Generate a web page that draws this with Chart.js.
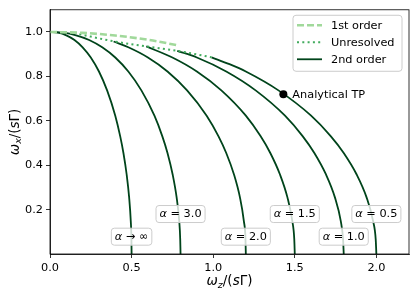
<!DOCTYPE html>
<html>
<head>
<meta charset="utf-8">
<script src="https://cdn.jsdelivr.net/npm/chart.js@4.4.0/dist/chart.umd.min.js"></script>
<style>
html, body { margin: 0; padding: 0; background: #fff; }
#wrap { width: 416px; height: 297px; }
</style>
</head>
<body>
<div id="wrap"><canvas id="chart" width="416" height="297"></canvas></div>
<script>
// Trục
const xTicks = [0.0, 0.5, 1.0, 1.5, 2.0];
const yTicks = [0.2, 0.4, 0.6, 0.8, 1.0];

// 1st order (nét đứt)
const firstOrderX = [0, 0.2, 0.4, 0.6, 0.79];
const firstOrderY = [1, 0.996, 0.984, 0.965, 0.939];

// Unresolved (chấm)
const unresolvedX = [0.18, 0.39, 0.59, 0.78, 0.99];
const unresolvedY = [0.99, 0.958, 0.935, 0.915, 0.886];

// 2nd order, mỗi alpha một đường
const curveInfX = [0, 0.05, 0.10, 0.15, 0.20, 0.25, 0.30, 0.35, 0.40, 0.43, 0.45, 0.47, 0.485, 0.495, 0.499, 0.5];
const curveInfY = [1, 0.997, 0.985, 0.964, 0.931, 0.885, 0.822, 0.737, 0.623, 0.531, 0.455, 0.357, 0.255, 0.148, 0.066, 0];

const curve30X = [0, 0.08, 0.16, 0.24, 0.32, 0.40, 0.48, 0.56, 0.64, 0.688, 0.72, 0.752, 0.776, 0.792, 0.798, 0.8];
const curve30Y = [1, 0.997, 0.985, 0.964, 0.931, 0.885, 0.822, 0.737, 0.623, 0.531, 0.455, 0.357, 0.255, 0.148, 0.066, 0];

const curve20X = [0.39, 0.48, 0.60, 0.72, 0.84, 0.96, 1.032, 1.08, 1.128, 1.164, 1.188, 1.198, 1.2];
const curve20Y = [0.957, 0.931, 0.885, 0.822, 0.737, 0.623, 0.531, 0.455, 0.357, 0.255, 0.148, 0.066, 0];

const curve15X = [0.59, 0.75, 0.90, 1.05, 1.20, 1.29, 1.35, 1.41, 1.455, 1.485, 1.497, 1.5];
const curve15Y = [0.935, 0.885, 0.822, 0.737, 0.623, 0.531, 0.455, 0.357, 0.255, 0.148, 0.066, 0];

const curve10X = [0.78, 0.90, 1.08, 1.26, 1.44, 1.548, 1.62, 1.692, 1.746, 1.782, 1.796, 1.8];
const curve10Y = [0.915, 0.885, 0.822, 0.737, 0.623, 0.531, 0.455, 0.357, 0.255, 0.148, 0.066, 0];

const curve05X = [0.99, 1.10, 1.20, 1.40, 1.60, 1.72, 1.80, 1.88, 1.94, 1.98, 1.996, 2.0];
const curve05Y = [0.886, 0.855, 0.822, 0.737, 0.623, 0.531, 0.455, 0.357, 0.255, 0.148, 0.066, 0];

// Điểm TP giải tích
const tpX = [1.43];
const tpY = [0.72];

// Nhãn alpha
const alphaText = ['→ ∞', '= 3.0', '= 2.0', '= 1.5', '= 1.0', '= 0.5'];
const alphaEnd = [0.5, 0.8, 1.2, 1.5, 1.8, 2.0];
const alphaLabelY = [0.078, 0.18, 0.078, 0.18, 0.078, 0.18];

const legendNames = ['1st order', 'Unresolved', '2nd order'];

const FONT = '"DejaVu Sans", sans-serif';
const C_LIGHT = '#a1d99b';
const C_MID = '#41ab5d';
const C_DARK = '#00441b';

function pts(xs, ys) {
    return xs.map((v, i) => ({ x: v, y: ys[i] }));
}

function secondOrder(xs, ys) {
    return {
        data: pts(xs, ys),
        borderColor: C_DARK,
        borderWidth: 1.8,
        pointRadius: 0,
        fill: false,
        cubicInterpolationMode: 'monotone'
    };
}

// Vẽ chữ kiểu mathtext
function drawRuns(ctx, runs, x, y, size) {
    let total = 0;
    const parts = runs.map(([t, s]) => {
        const fs = s === 'sub' ? size * 0.7 : size;
        const font = (s === 'n' ? '' : 'italic ') + fs + 'px ' + FONT;
        ctx.font = font;
        const w = ctx.measureText(t).width;
        total += w;
        return { t, font, w, dy: s === 'sub' ? size * 0.22 : 0 };
    });
    let cx = x - total / 2;
    ctx.textAlign = 'left';
    for (const p of parts) {
        ctx.font = p.font;
        ctx.fillText(p.t, cx, y + p.dy);
        cx += p.w;
    }
}

function roundBox(ctx, x, y, w, h, r) {
    ctx.beginPath();
    ctx.moveTo(x + r, y);
    ctx.lineTo(x + w - r, y);
    ctx.quadraticCurveTo(x + w, y, x + w, y + r);
    ctx.lineTo(x + w, y + h - r);
    ctx.quadraticCurveTo(x + w, y + h, x + w - r, y + h);
    ctx.lineTo(x + r, y + h);
    ctx.quadraticCurveTo(x, y + h, x, y + h - r);
    ctx.lineTo(x, y + r);
    ctx.quadraticCurveTo(x, y, x + r, y);
    ctx.closePath();
}

const annotate = {
    id: 'annotate',
    afterDatasetsDraw(chart) {
        const { ctx, chartArea: a, scales: { x, y } } = chart;
        ctx.save();

        // khung
        ctx.strokeStyle = '#000';
        ctx.lineWidth = 0.8;
        ctx.strokeRect(a.left, a.top, a.right - a.left, a.bottom - a.top);

        // nhãn alpha
        ctx.textBaseline = 'middle';
        alphaText.forEach((t, i) => {
            ctx.font = 'italic 11.3px ' + FONT;
            const wa = ctx.measureText('α').width;
            ctx.font = '11.3px ' + FONT;
            const wr = ctx.measureText(' ' + t).width;
            const w = wa + wr + 7, h = 17;
            const cx = x.getPixelForValue(alphaEnd[i]);
            const cy = y.getPixelForValue(alphaLabelY[i]);
            roundBox(ctx, cx - w / 2, cy - h / 2, w, h, 3);
            ctx.fillStyle = 'rgba(255,255,255,0.8)';
            ctx.fill();
            ctx.strokeStyle = '#cccccc';
            ctx.lineWidth = 1;
            ctx.stroke();
            ctx.fillStyle = '#000';
            ctx.textAlign = 'left';
            ctx.font = 'italic 11.3px ' + FONT;
            ctx.fillText('α', cx - w / 2 + 3.5, cy + 0.5);
            ctx.font = '11.3px ' + FONT;
            ctx.fillText(' ' + t, cx - w / 2 + 3.5 + wa, cy + 0.5);
        });

        // Analytical TP
        ctx.font = '11.3px ' + FONT;
        ctx.fillStyle = '#000';
        ctx.textAlign = 'left';
        ctx.fillText('Analytical TP', x.getPixelForValue(tpX[0]) + 9, y.getPixelForValue(tpY[0]) + 0.5);

        // chú giải
        const bw = 109, bh = 56;
        const bx = a.right - 7 - bw, by = a.top + 5.5;
        roundBox(ctx, bx, by, bw, bh, 3);
        ctx.fillStyle = 'rgba(255,255,255,0.8)';
        ctx.fill();
        ctx.strokeStyle = '#cccccc';
        ctx.lineWidth = 1;
        ctx.stroke();
        const rows = [
            { c: C_LIGHT, w: 2.6, d: [7, 3] },
            { c: C_MID, w: 2, d: [2, 3.3] },
            { c: C_DARK, w: 1.8, d: [] }
        ];
        rows.forEach((r, i) => {
            const ry = by + 10 + i * 17;
            ctx.beginPath();
            ctx.setLineDash(r.d);
            ctx.strokeStyle = r.c;
            ctx.lineWidth = r.w;
            ctx.moveTo(bx + 4, ry);
            ctx.lineTo(bx + 29, ry);
            ctx.stroke();
            ctx.setLineDash([]);
            ctx.fillStyle = '#000';
            ctx.font = '11.3px ' + FONT;
            ctx.fillText(legendNames[i], bx + 38, ry + 0.5);
        });

        // tên trục
        ctx.textBaseline = 'alphabetic';
        ctx.fillStyle = '#000';
        drawRuns(ctx, [['ω', 'i'], ['z', 'sub'], ['/(', 'n'], ['s', 'i'], ['Γ', 'n'], [')', 'n']],
            (a.left + a.right) / 2, 285.3, 13.5);
        ctx.translate(18.5, (a.top + a.bottom) / 2);
        ctx.rotate(-Math.PI / 2);
        drawRuns(ctx, [['ω', 'i'], ['x', 'sub'], ['/(', 'n'], ['s', 'i'], ['Γ', 'n'], [')', 'n']],
            0, 0, 13.5);

        ctx.restore();
    }
};

function initChart() {
    const el = document.getElementById('chart');
    new Chart(el.getContext('2d'), {
        type: 'line',
        data: {
            datasets: [
                {
                    data: pts(tpX, tpY),
                    showLine: false,
                    pointRadius: 4,
                    pointBackgroundColor: '#000',
                    pointBorderColor: '#000',
                    pointBorderWidth: 0
                },
                {
                    data: pts(firstOrderX, firstOrderY),
                    borderColor: C_LIGHT,
                    borderWidth: 2.6,
                    borderDash: [7, 3],
                    pointRadius: 0,
                    fill: false,
                    cubicInterpolationMode: 'monotone'
                },
                {
                    data: pts(unresolvedX, unresolvedY),
                    borderColor: C_MID,
                    borderWidth: 2,
                    borderDash: [2, 3.3],
                    pointRadius: 0,
                    fill: false,
                    cubicInterpolationMode: 'monotone'
                },
                secondOrder(curveInfX, curveInfY),
                secondOrder(curve30X, curve30Y),
                secondOrder(curve20X, curve20Y),
                secondOrder(curve15X, curve15Y),
                secondOrder(curve10X, curve10Y),
                secondOrder(curve05X, curve05Y)
            ]
        },
        options: {
            responsive: false,
            animation: false,
            devicePixelRatio: 1,
            layout: { padding: { top: 8, right: 7, left: 0, bottom: 0 } },
            plugins: {
                legend: { display: false },
                tooltip: { enabled: false }
            },
            scales: {
                x: {
                    type: 'linear',
                    min: 0,
                    max: 2.2,
                    afterBuildTicks: axis => { axis.ticks = xTicks.map(v => ({ value: v })); },
                    afterFit: axis => { axis.height = 43; },
                    ticks: {
                        color: '#000',
                        font: { family: 'DejaVu Sans', size: 11.3 },
                        padding: 3,
                        maxRotation: 0,
                        callback: v => v.toFixed(1)
                    },
                    grid: { display: true, drawOnChartArea: false, drawTicks: true, tickLength: 4, color: '#000', lineWidth: 0.8 },
                    border: { display: true, color: '#000', width: 0.8 }
                },
                y: {
                    type: 'linear',
                    min: 0,
                    max: 1.1,
                    afterBuildTicks: axis => { axis.ticks = yTicks.map(v => ({ value: v })); },
                    afterFit: axis => { axis.width = 50; },
                    ticks: {
                        color: '#000',
                        font: { family: 'DejaVu Sans', size: 11.3 },
                        padding: 3,
                        callback: v => v.toFixed(1)
                    },
                    grid: { display: true, drawOnChartArea: false, drawTicks: true, tickLength: 4, color: '#000', lineWidth: 0.8 },
                    border: { display: true, color: '#000', width: 0.8 }
                }
            }
        },
        plugins: [annotate]
    });
}

document.addEventListener('DOMContentLoaded', initChart);
</script>
</body>
</html>
